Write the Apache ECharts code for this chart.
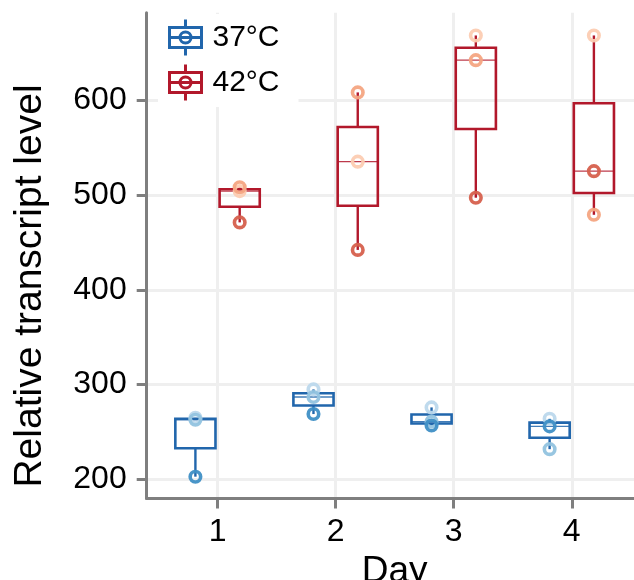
<!DOCTYPE html>
<html><head><meta charset="utf-8">
<script src="https://cdn.jsdelivr.net/npm/echarts@6/dist/echarts.min.js"></script>
<style>html,body{margin:0;padding:0;background:#fff}#c{width:634px;height:580px}</style>
</head><body><div id="c"></div>
<script>
// ---- data ----
const days = [1, 2, 3, 4];
const xTicks = [1, 2, 3, 4];
const yTicks = [200, 300, 400, 500, 600];
const groupNames = ['37°C', '42°C'];
// replicate measurements per day (Day 1..4)
const t37_rep1 = [265, 295, 276, 264];
const t37_rep2 = [263, 287, 261, 232];
const t37_rep3 = [203, 269, 257, 256];
const t42_rep1 = [504, 535, 668, 668];
const t42_rep2 = [508, 608, 642, 479];
const t42_rep3 = [471, 442, 497, 525];

// ---- styles ----
const FONT = 'Liberation Sans, Arial, Helvetica, sans-serif';
const boxColors = ['#2166ac', '#b2182b'];
const repColors = [
  ['#bcd8ec', '#92c3df', '#3f8fc5'],
  ['#fcccb2', '#f4a582', '#d6604d']
];
const DODGE = 0.1875;
const BOX_W = 0.34;

const reps = [[t37_rep1, t37_rep2, t37_rep3], [t42_rep1, t42_rep2, t42_rep3]];

function quantile(sorted, p) {
  const h = (sorted.length - 1) * p;
  const lo = Math.floor(h), hi = Math.ceil(h);
  return sorted[lo] + (h - lo) * (sorted[hi] - sorted[lo]);
}
function boxStats(vals) {
  const s = vals.slice().sort((a, b) => a - b);
  const q1 = quantile(s, 0.25), med = quantile(s, 0.5), q3 = quantile(s, 0.75);
  const iqr = q3 - q1;
  const lo = Math.min(...s.filter(v => v >= q1 - 1.5 * iqr));
  const hi = Math.max(...s.filter(v => v <= q3 + 1.5 * iqr));
  return [lo, q1, med, q3, hi];
}

const series = [];
groupNames.forEach((name, g) => {
  const off = g === 0 ? -DODGE : DODGE;
  const boxData = days.map((d, i) => [d + off].concat(boxStats(reps[g].map(r => r[i]))));
  series.push({
    name: name,
    type: 'custom',
    itemStyle: { color: boxColors[g] },
    encode: { x: 0, y: [1, 2, 3, 4, 5] },
    z: 2,
    renderItem: function (params, api) {
      const x = api.value(0);
      const pLo = api.coord([x, api.value(1)]);
      const pQ1 = api.coord([x, api.value(2)]);
      const pMed = api.coord([x, api.value(3)]);
      const pQ3 = api.coord([x, api.value(4)]);
      const pHi = api.coord([x, api.value(5)]);
      const half = api.size([BOX_W, 0])[0] / 2;
      const c = boxColors[g];
      return {
        type: 'group',
        children: [
          { type: 'line', shape: { x1: pQ3[0], y1: pQ3[1], x2: pHi[0], y2: pHi[1] }, style: { stroke: c, lineWidth: 2.4 } },
          { type: 'line', shape: { x1: pLo[0], y1: pLo[1], x2: pQ1[0], y2: pQ1[1] }, style: { stroke: c, lineWidth: 2.4 } },
          { type: 'rect', shape: { x: pQ3[0] - half, y: pQ3[1], width: half * 2, height: pQ1[1] - pQ3[1] }, style: { fill: 'none', stroke: c, lineWidth: 2.6 } },
          { type: 'line', shape: { x1: pMed[0] - half, y1: pMed[1], x2: pMed[0] + half, y2: pMed[1] }, style: { stroke: c, lineWidth: 1.4, opacity: 0.85 } }
        ]
      };
    },
    data: boxData
  });
  reps[g].forEach((rep, r) => {
    series.push({
      name: name + ' rep' + (r + 1),
      type: 'scatter',
      symbol: 'circle',
      symbolSize: 10.5,
      z: 5,
      itemStyle: { color: 'rgba(0,0,0,0)', borderColor: repColors[g][r], borderWidth: 3.6, opacity: 0.95 },
      emphasis: { disabled: true },
      data: days.map((d, i) => [d + off, rep[i]])
    });
  });
});

const iconPath = 'path://M0,8H32V28H0Z M0,18H32 M16,0V8 M16,28V36 M21.5,18A5.5,5.5 0 1,1 10.5,18A5.5,5.5 0 1,1 21.5,18';

const axisGray = '#7f7f7f';
const option = {
  backgroundColor: '#fff',
  animation: false,
  grid: { left: 146.7, right: -8.6, top: 12.7, bottom: 81.5, containLabel: false, outerBoundsMode: 'none' },
  xAxis: {
    type: 'value', min: 0.4, max: 4.6,
    name: 'Day', nameLocation: 'middle', nameGap: 44,
    nameTextStyle: { fontFamily: FONT, fontSize: 37, color: '#000' },
    axisLine: { show: true, onZero: false, lineStyle: { color: axisGray, width: 3 } },
    axisTick: { show: true, customValues: xTicks, length: 10, lineStyle: { color: axisGray, width: 3 } },
    axisLabel: { customValues: xTicks, margin: 18, fontFamily: FONT, fontSize: 32, color: '#000' },
    splitLine: { show: true, lineStyle: { color: '#efefef', width: 3 } }
  },
  yAxis: {
    type: 'value', min: 180, max: 692,
    axisLine: { show: true, onZero: false, lineStyle: { color: axisGray, width: 3 } },
    axisTick: { show: true, customValues: yTicks, length: 10, lineStyle: { color: axisGray, width: 3 } },
    axisLabel: { customValues: yTicks, margin: 20, fontFamily: FONT, fontSize: 32, color: '#000' },
    splitLine: { show: true, lineStyle: { color: '#efefef', width: 3 } }
  },
  legend: {
    left: 158, top: 14, orient: 'vertical',
    backgroundColor: '#fff',
    padding: [4, 19, 5, 10],
    itemWidth: 32, itemHeight: 36, itemGap: 6,
    textStyle: { fontFamily: FONT, fontSize: 30, color: '#000', padding: [0, 0, 0, 6] },
    data: groupNames.map((n, g) => ({
      name: n, icon: iconPath,
      itemStyle: { color: 'rgba(0,0,0,0)', borderColor: boxColors[g], borderWidth: 3 }
    }))
  },
  graphic: [{
    type: 'text', x: 30, y: 286, rotation: Math.PI / 2,
    style: { text: 'Relative transcript level', font: '39px ' + FONT, fill: '#000', align: 'center', verticalAlign: 'middle' }
  }],
  series: series
};
const chart = echarts.init(document.getElementById('c'), null, { renderer: 'canvas' });
chart.setOption(option);
</script></body></html>
